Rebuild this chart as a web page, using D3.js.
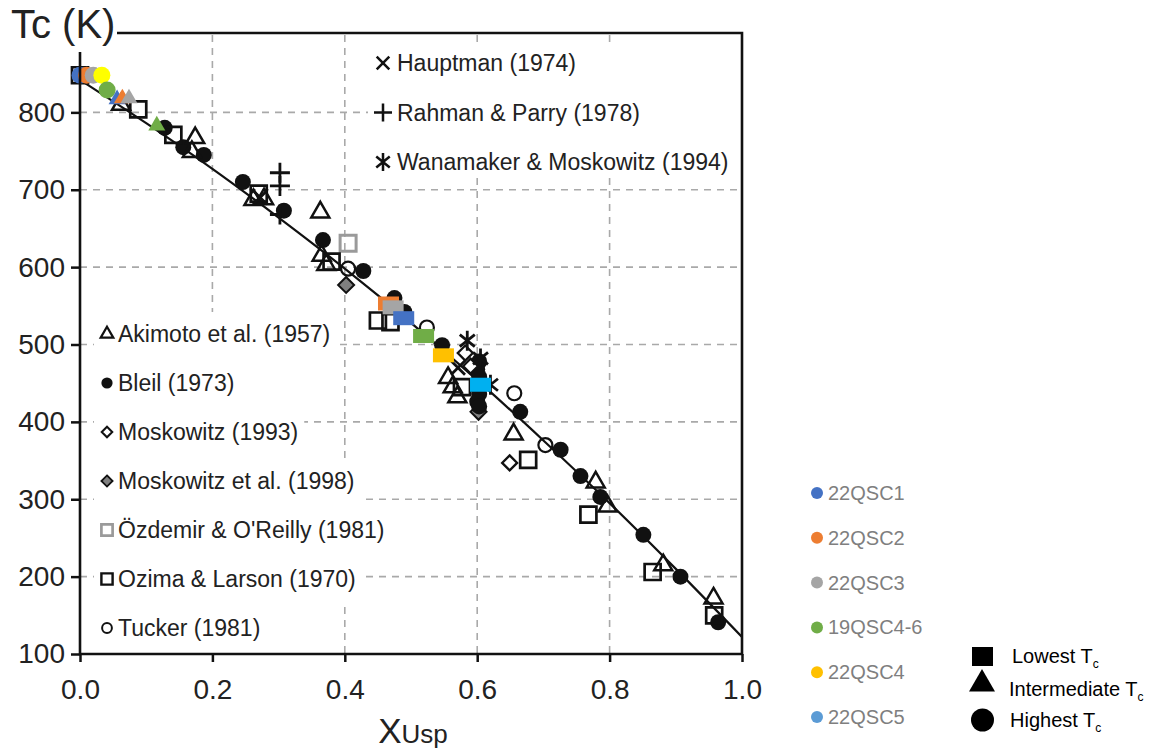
<!DOCTYPE html>
<html>
<head>
<meta charset="utf-8">
<script src="https://cdn.jsdelivr.net/npm/d3@7"></script>
<style>
  body { margin: 0; background: #fff; }
  svg { display: block; font-family: "Liberation Sans", Arial, sans-serif; }
</style>
</head>
<body>
<div id="chart"></div>
<script>
// literature data, [XUsp, Tc (K)]
const akimoto = [[0.062, 810], [0.174, 767], [0.169, 749], [0.262, 687], [0.278, 688], [0.363, 671],
  [0.365, 615], [0.372, 603], [0.556, 457], [0.563, 445], [0.57, 432], [0.655, 384], [0.779, 322],
  [0.797, 291], [0.881, 215], [0.957, 172]];
const bleil = [[0.128, 780], [0.156, 755], [0.187, 745], [0.246, 710], [0.308, 673], [0.367, 635],
  [0.428, 595], [0.475, 560], [0.49, 542], [0.547, 499], [0.603, 478], [0.6, 468], [0.603, 458],
  [0.6, 446], [0.603, 436], [0.6, 426], [0.603, 420], [0.665, 413], [0.726, 364], [0.756, 330],
  [0.786, 303], [0.851, 254], [0.907, 200], [0.964, 141]];
const moskowitz1993 = [[0.582, 489], [0.59, 472], [0.649, 347]];
const moskowitz1998 = [[0.402, 577], [0.602, 413]];
const ozdemir = [[0.405, 631]];
const ozima = [[0.0, 848], [0.088, 804], [0.141, 771], [0.27, 695], [0.38, 607], [0.45, 531],
  [0.469, 529], [0.577, 445], [0.677, 351], [0.768, 280], [0.865, 206], [0.958, 150]];
const tucker = [[0.405, 598], [0.524, 522], [0.656, 437], [0.703, 370]];
const hauptman = [[0.272, 690], [0.571, 470]];
const rahman = [[0.302, 722], [0.302, 705], [0.302, 668]];
const wanamaker = [[0.585, 505], [0.605, 482], [0.62, 448]];

// fitted curve
const fitX = [0, 0.1, 0.2, 0.3, 0.4, 0.5, 0.6, 0.7, 0.8, 0.9, 1.0];
const fitTc = [842, 786, 727, 664, 598, 528, 454, 376, 295, 210, 122];

// this study
const samples = ["22QSC1", "22QSC2", "22QSC3", "19QSC4-6", "22QSC4", "22QSC5"];
const sampleColors = ["#4472c4", "#ed7d31", "#a5a5a5", "#70ad47", "#ffc000", "#5b9bd5"];
const highestTc = [["22QSC1", 0.0, 848], ["22QSC2", 0.01, 848], ["22QSC3", 0.02, 848],
  ["22QSC4", 0.033, 848], ["19QSC4-6", 0.041, 829]];
const intermediateTc = [["22QSC1", 0.056, 817], ["22QSC2", 0.064, 818], ["22QSC3", 0.074, 818],
  ["19QSC4-6", 0.116, 783]];
const lowestTc = [["22QSC2", 0.466, 553], ["22QSC3", 0.473, 548], ["22QSC1", 0.489, 534],
  ["19QSC4-6", 0.519, 511], ["22QSC4", 0.549, 486], ["22QSC5", 0.605, 448]];

const xTicks = [0, 0.2, 0.4, 0.6, 0.8, 1.0];
const yTicks = [100, 200, 300, 400, 500, 600, 700, 800];

const topLegend = [["Hauptman (1974)", "cross"], ["Rahman & Parry (1978)", "plus"],
  ["Wanamaker & Moskowitz (1994)", "asterisk"]];
const leftLegend = [["Akimoto et al. (1957)", "triangle"], ["Bleil (1973)", "dot"],
  ["Moskowitz (1993)", "diamond"], ["Moskowitz et al. (1998)", "diamondGray"],
  ["Özdemir & O'Reilly (1981)", "squareGray"], ["Ozima & Larson (1970)", "square"],
  ["Tucker (1981)", "circle"]];

const W = 1159, H = 752;
const svg = d3.select("#chart").append("svg").attr("width", W).attr("height", H);

const x = d3.scaleLinear().domain([0, 1]).range([80, 742]);
const y = d3.scaleLinear().domain([100, 900]).range([654, 35]);

// marker shapes
function shape(type, s) {
  const h = s * 0.866;
  switch (type) {
    case "triangle": return `M0,${-2 * h / 3}L${s / 2},${h / 3}L${-s / 2},${h / 3}Z`;
    case "square": return `M${-s / 2},${-s / 2}h${s}v${s}h${-s}Z`;
    case "diamond": return `M0,${-s}L${s},0L0,${s}L${-s},0Z`;
    case "cross": return `M${-s},${-s}L${s},${s}M${-s},${s}L${s},${-s}`;
    case "plus": return `M${-s},0L${s},0M0,${-s}L0,${s}`;
    case "asterisk": return `M0,${-s}L0,${s}M${-s * 0.75},${-s * 0.6}L${s * 0.75},${s * 0.6}M${-s * 0.75},${s * 0.6}L${s * 0.75},${-s * 0.6}`;
  }
}

const styles = {
  triangle: { d: "triangle", s: 18, fill: "none", stroke: "#111", sw: 2.5 },
  dot: { circle: true, r: 8, fill: "#111", stroke: "none", sw: 0 },
  diamond: { d: "diamond", s: 7.5, fill: "#fff", stroke: "#111", sw: 2.3 },
  diamondGray: { d: "diamond", s: 8, fill: "#808080", stroke: "#111", sw: 2 },
  squareGray: { d: "square", s: 16, fill: "none", stroke: "#9a9a9a", sw: 3 },
  square: { d: "square", s: 16, fill: "none", stroke: "#111", sw: 2.7 },
  circle: { circle: true, r: 7, fill: "none", stroke: "#111", sw: 2.2 },
  cross: { d: "cross", s: 7, fill: "none", stroke: "#111", sw: 2.8 },
  plus: { d: "plus", s: 10, fill: "none", stroke: "#111", sw: 2.8 },
  asterisk: { d: "asterisk", s: 10, fill: "none", stroke: "#111", sw: 2.8 }
};

function drawMarker(g, type, cx, cy, k) {
  const st = styles[type];
  let m;
  if (st.circle) m = g.append("circle").attr("cx", cx).attr("cy", cy).attr("r", st.r * k);
  else m = g.append("path").attr("d", shape(st.d, st.s * k)).attr("transform", `translate(${cx},${cy})`);
  m.attr("fill", st.fill).attr("stroke", st.stroke).attr("stroke-width", st.sw * Math.max(k, 0.9));
  return m;
}

// grid
const grid = svg.append("g").attr("stroke", "#a9a9a9").attr("stroke-width", 1.6).attr("stroke-dasharray", "7,6");
grid.selectAll("line.gx").data(xTicks.slice(1, -1)).join("line").attr("class", "gx")
  .attr("x1", d => x(d)).attr("x2", d => x(d)).attr("y1", y(900)).attr("y2", y(100));
grid.selectAll("line.gy").data(yTicks.slice(1)).join("line").attr("class", "gy")
  .attr("x1", x(0)).attr("x2", x(1)).attr("y1", d => y(d)).attr("y2", d => y(d));

// top legend box
const tl = svg.append("g");
tl.append("rect").attr("x", 368).attr("y", 43).attr("width", 369).attr("height", 135).attr("fill", "#fff");
topLegend.forEach((d, i) => {
  const by = 71 + i * 49.5;
  drawMarker(tl, d[1], 383, by - 8, 0.9);
  tl.append("text").attr("x", 397).attr("y", by).attr("font-size", 23).attr("fill", "#222").text(d[0]);
});

// left legend, one white strip per entry
const ll = svg.append("g");
const llBg = ll.append("g");
leftLegend.forEach((d, i) => {
  const by = 342 + i * 49;
  const t = ll.append("text").attr("x", 118).attr("y", by).attr("font-size", 23).attr("fill", "#222").text(d[0]);
  const w = t.node().getComputedTextLength();
  llBg.append("rect").attr("x", 94).attr("y", by - 30).attr("width", 118 + w + 6 - 94).attr("height", 49).attr("fill", "#fff");
  drawMarker(ll, d[1], 107, by - 8, 0.7);
});

// fitted curve
const line = d3.line().x(d => x(d[0])).y(d => y(d[1])).curve(d3.curveMonotoneX);
svg.append("path").datum(fitX.map((v, i) => [v, fitTc[i]]))
  .attr("d", line).attr("fill", "none").attr("stroke", "#111").attr("stroke-width", 2.2);

// literature points
const pts = svg.append("g");
[[ozdemir, "squareGray"], [moskowitz1998, "diamondGray"], [tucker, "circle"], [bleil, "dot"],
 [ozima, "square"], [akimoto, "triangle"], [moskowitz1993, "diamond"], [hauptman, "cross"],
 [rahman, "plus"], [wanamaker, "asterisk"]].forEach(([data, type]) => {
  data.forEach(d => drawMarker(pts, type, x(d[0]), y(d[1]), 1));
});

// this study
const color = d3.scaleOrdinal().domain(samples).range(sampleColors);
const own = svg.append("g");
own.selectAll("circle").data(highestTc).join("circle")
  .attr("cx", d => x(d[1])).attr("cy", d => y(d[2])).attr("r", 8.5)
  .attr("fill", d => d[0] === "22QSC4" ? "#ffff00" : color(d[0]));
own.selectAll("path.tri").data(intermediateTc).join("path").attr("class", "tri")
  .attr("d", shape("triangle", 17)).attr("transform", d => `translate(${x(d[1])},${y(d[2])})`)
  .attr("fill", d => color(d[0]));
own.selectAll("rect").data(lowestTc).join("rect")
  .attr("x", d => x(d[1]) - 10.5).attr("y", d => y(d[2]) - 7).attr("width", 21).attr("height", 14)
  .attr("fill", d => d[0] === "22QSC5" ? "#00b0f0" : color(d[0]));

// axes
const yAxis = svg.append("g").attr("transform", `translate(${x(0)},0)`)
  .call(d3.axisLeft(y).tickValues(yTicks).tickSize(9).tickPadding(6).tickFormat(d3.format("d")));
yAxis.attr("font-size", 28).attr("font-family", null);
yAxis.select(".domain").remove();
yAxis.selectAll("line").attr("stroke", "#111").attr("stroke-width", 2.5);
yAxis.selectAll("text").attr("fill", "#222");

const xAxis = svg.append("g").attr("transform", `translate(0,${y(100)})`)
  .call(d3.axisBottom(x).tickValues(xTicks).tickSize(8).tickPadding(17).tickFormat(d3.format(".1f")));
xAxis.attr("font-size", 28).attr("font-family", null);
xAxis.select(".domain").remove();
xAxis.selectAll("line").attr("stroke", "#111").attr("stroke-width", 2.5);
xAxis.selectAll("text").attr("fill", "#222");

// frame
svg.append("path")
  .attr("d", `M${x(0)},52V${y(100)}H${x(1)}V${y(900) - 2}H117`)
  .attr("fill", "none").attr("stroke", "#111").attr("stroke-width", 2.6);

// titles
svg.append("text").attr("x", 11).attr("y", 38).attr("font-size", 40).attr("fill", "#222").text("Tc (K)");
const xl = svg.append("text").attr("x", 413).attr("y", 743).attr("text-anchor", "middle").attr("fill", "#222");
xl.append("tspan").attr("font-size", 35).text("X");
xl.append("tspan").attr("font-size", 26).text("Usp");

// sample legend
const sl = svg.append("g");
samples.forEach((s, i) => {
  const cy = 493 + i * 44.8;
  sl.append("circle").attr("cx", 817).attr("cy", cy).attr("r", 6).attr("fill", sampleColors[i]);
  sl.append("text").attr("x", 828).attr("y", cy + 7).attr("font-size", 20).attr("fill", "#7f7f7f").text(s);
});

// marker-type legend
const ml = svg.append("g");
const mlItems = [["Lowest T", 656, 1012], ["Intermediate T", 689, 1009], ["Highest T", 720, 1010]];
ml.append("rect").attr("x", 972).attr("y", 647).attr("width", 21).attr("height", 19).attr("fill", "#000");
ml.append("path").attr("d", shape("triangle", 26)).attr("transform", "translate(982,684)").attr("fill", "#000");
ml.append("circle").attr("cx", 982.5).attr("cy", 720).attr("r", 11.5).attr("fill", "#000");
mlItems.forEach(d => {
  const t = ml.append("text").attr("x", d[2]).attr("y", d[1] + 7).attr("font-size", 20).attr("fill", "#000");
  t.append("tspan").text(d[0]);
  t.append("tspan").attr("font-size", 12).attr("dy", 5).text("c");
});
</script>
</body>
</html>
